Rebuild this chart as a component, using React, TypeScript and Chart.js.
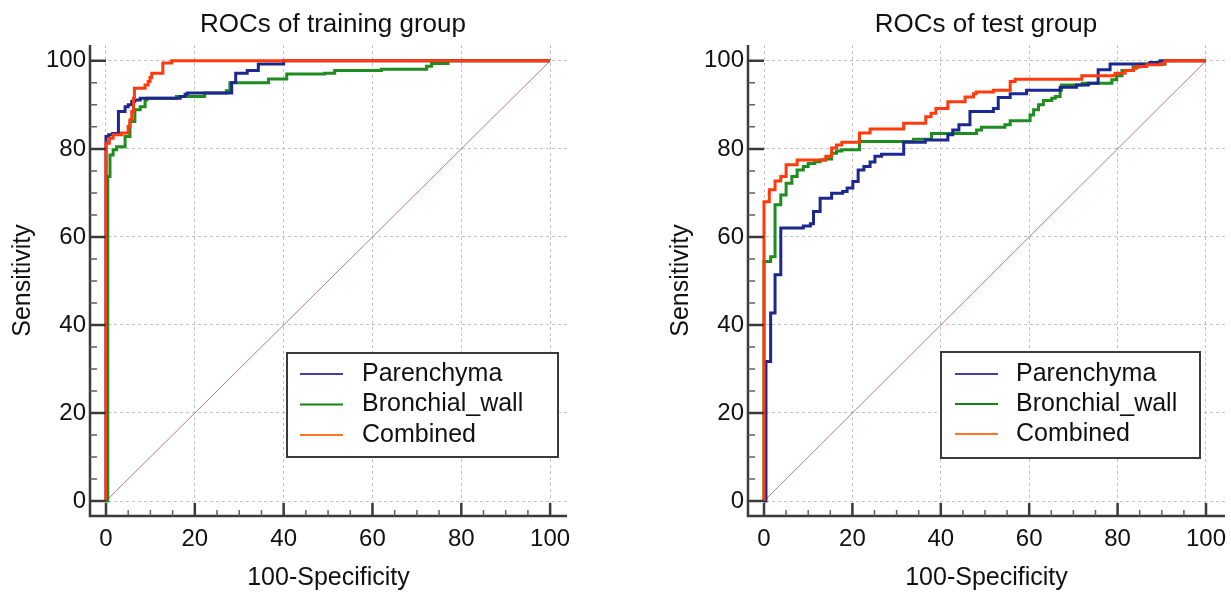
import React, { useEffect, useRef } from 'react';
import { Chart, registerables } from 'chart.js';

Chart.register(...registerables);

const FONT = "'Liberation Sans', Arial, Helvetica, sans-serif";

// ---- axis ticks / labels ----
const tickValues = [0, 20, 40, 60, 80, 100];
const seriesNames = ['Parenchyma', 'Bronchial_wall', 'Combined'];
const xAxisTitle = '100-Specificity';
const yAxisTitle = 'Sensitivity';
const trainTitle = 'ROCs of training group';
const testTitle = 'ROCs of test group';

// ---- training group (x = 100-Specificity, y = Sensitivity) ----
const trainParenchymaX = [0, 0, 0.6, 1.5, 2.8, 4.3, 5.0, 5.8, 6.5, 7.7, 16.7, 17.8, 18.3, 28.3, 29.2, 31.8, 34.3, 40.0, 100];
const trainParenchymaY = [0, 82.8, 83.2, 83.5, 88.5, 89.6, 90.0, 90.8, 91.1, 91.5, 91.9, 92.4, 92.7, 95.1, 97.2, 97.8, 99.3, 100, 100];

const trainBronchialX = [0, 0.4, 0.9, 1.6, 2.4, 4.3, 5.4, 6.5, 7.7, 8.8, 9.2, 15.9, 22.2, 27.1, 27.9, 36.6, 40.7, 49.2, 51.5, 62.0, 72.2, 73.3, 77.0, 100];
const trainBronchialY = [0, 73.7, 78.6, 79.8, 80.5, 82.8, 86.2, 88.9, 89.6, 91.1, 91.5, 91.9, 92.7, 93.2, 95.0, 95.9, 97.0, 97.2, 97.8, 98.1, 98.8, 99.4, 100, 100];

const trainCombinedX = [0, 0, 0.75, 1.6, 3.5, 5.0, 5.4, 5.8, 6.2, 6.4, 8.8, 9.5, 9.9, 10.3, 12.8, 14.8, 100];
const trainCombinedY = [0, 81.3, 82.4, 83.2, 83.6, 85.1, 86.6, 88.5, 91.5, 93.8, 94.5, 95.3, 96.2, 97.2, 99.5, 100, 100];

// ---- test group ----
const testParenchymaX = [0, 0.45, 1.5, 2.5, 3.8, 8.9, 10.5, 11.2, 12.7, 15.3, 17.8, 18.8, 20.1, 21.3, 22.6, 24.0, 25.1, 26.6, 31.6, 36.5, 41.6, 42.7, 44.1, 46.6, 51.9, 53.0, 55.7, 59.4, 67.0, 70.7, 73.4, 75.6, 78.3, 87.3, 89.6, 100];
const testParenchymaY = [0, 31.7, 42.7, 51.4, 62.0, 62.5, 63.0, 65.8, 68.8, 69.9, 70.3, 71.1, 72.6, 75.2, 76.0, 77.0, 78.3, 78.8, 81.5, 82.0, 83.2, 84.3, 85.5, 88.5, 89.2, 91.7, 92.5, 93.3, 94.0, 94.5, 94.9, 98.0, 99.3, 99.6, 100, 100];

const testBronchialX = [0, 0, 1.5, 2.5, 3.8, 5.0, 6.3, 7.5, 8.9, 10.0, 11.5, 12.7, 13.8, 15.3, 16.4, 17.6, 21.6, 33.8, 37.9, 48.1, 49.2, 54.5, 55.7, 60.2, 61.0, 62.1, 63.2, 65.1, 65.9, 67.0, 67.3, 72.0, 78.7, 79.8, 81.0, 83.5, 85.0, 90.7, 100];
const testBronchialY = [0, 54.4, 55.5, 67.3, 69.5, 72.2, 73.7, 75.2, 76.0, 76.7, 77.1, 77.5, 77.7, 79.0, 79.5, 79.8, 81.7, 82.2, 83.5, 84.3, 84.9, 85.5, 86.4, 87.7, 88.9, 90.0, 91.0, 91.5, 91.9, 93.4, 94.5, 94.9, 95.7, 96.6, 97.8, 98.6, 99.2, 100, 100];

const testCombinedX = [0, 0, 1.2, 2.5, 3.8, 5.0, 7.5, 14.0, 15.3, 16.4, 17.6, 21.6, 24.0, 31.6, 36.6, 37.8, 38.9, 41.6, 45.5, 47.4, 48.0, 51.9, 55.7, 56.8, 71.9, 79.4, 81.7, 83.6, 84.3, 86.6, 89.6, 90.7, 100];
const testCombinedY = [0, 68.0, 70.7, 72.7, 73.7, 76.4, 77.5, 78.3, 80.2, 80.9, 81.5, 83.6, 84.5, 85.8, 87.3, 88.1, 89.2, 90.7, 91.8, 92.5, 92.9, 93.3, 95.3, 95.8, 96.6, 97.2, 97.8, 98.3, 98.7, 99.1, 99.3, 100, 100];

// ---- chance line ----
const diagonalX = [0, 100];
const diagonalY = [0, 100];

// ---- styles ----
const curveColors = { parenchyma: '#1c2890', bronchial: '#1f8c1f', combined: '#ff3a0c' };
const legendColors = ['#4040a8', '#138313', '#ff7428'];
const diagColor = '#b07c86';
const axisColor = '#3a3a3a';
const gridColor = '#c2c2c2';

const toPoints = (xs: number[], ys: number[]) => xs.map((x, i) => ({ x, y: ys[i] }));

type LegendBox = { x: number; y: number; w: number; h: number; lineX0: number; lineX1: number; textX: number; rows: number[] };

type PanelProps = {
  title: string;
  titleX: number;
  xs: [number[], number[], number[]];
  ys: [number[], number[], number[]];
  xRange: [number, number];
  legend: LegendBox;
};

function makeDecor(p: PanelProps) {
  return {
    id: 'decor',
    afterDraw(chart: any) {
      const { ctx, chartArea: a, scales } = chart;
      const sx = scales.x;
      const sy = scales.y;
      ctx.save();
      // axis lines
      ctx.strokeStyle = axisColor;
      ctx.lineWidth = 2.5;
      ctx.beginPath();
      ctx.moveTo(a.left, a.top);
      ctx.lineTo(a.left, a.bottom + 1.25);
      ctx.moveTo(a.left - 1.25, a.bottom);
      ctx.lineTo(a.right, a.bottom);
      ctx.stroke();
      // tick marks (inward)
      for (let v = 0; v <= 100; v += 5) {
        const major = v % 20 === 0;
        const py = sy.getPixelForValue(v);
        const px = sx.getPixelForValue(v);
        ctx.lineWidth = major ? 2.5 : 1.5;
        ctx.strokeStyle = major ? axisColor : '#606060';
        ctx.beginPath();
        ctx.moveTo(a.left, py);
        ctx.lineTo(a.left + (major ? 16 : 7), py);
        ctx.moveTo(px, a.bottom);
        ctx.lineTo(px, a.bottom - (major ? 13 : 6));
        ctx.stroke();
      }
      // title
      ctx.fillStyle = '#111';
      ctx.font = `26px ${FONT}`;
      ctx.textAlign = 'center';
      ctx.textBaseline = 'alphabetic';
      ctx.fillText(p.title, p.titleX, 32);
      // legend
      const L = p.legend;
      ctx.fillStyle = '#fff';
      ctx.fillRect(L.x, L.y, L.w, L.h);
      ctx.strokeStyle = axisColor;
      ctx.lineWidth = 2;
      ctx.strokeRect(L.x, L.y, L.w, L.h);
      ctx.font = `25px ${FONT}`;
      ctx.textAlign = 'left';
      ctx.textBaseline = 'middle';
      seriesNames.forEach((name, i) => {
        const y = L.rows[i];
        ctx.strokeStyle = legendColors[i];
        ctx.lineWidth = 2;
        ctx.beginPath();
        ctx.moveTo(L.lineX0, y);
        ctx.lineTo(L.lineX1, y);
        ctx.stroke();
        ctx.fillStyle = '#111';
        ctx.fillText(name, L.textX, y);
      });
      ctx.restore();
    },
  };
}

function RocPanel(p: PanelProps) {
  const ref = useRef<HTMLCanvasElement | null>(null);
  useEffect(() => {
    if (!ref.current) return;
    const ds = (label: string, xs: number[], ys: number[], color: string) => ({
      label,
      data: toPoints(xs, ys),
      borderColor: color,
      backgroundColor: color,
      borderWidth: 3,
      pointRadius: 0,
      stepped: 'before' as const,
      fill: false,
    });
    const setTicks = (axis: any) => {
      axis.ticks = tickValues.map((v) => ({ value: v }));
    };
    const chart = new Chart(ref.current, {
      type: 'line',
      data: {
        datasets: [
          ds('Combined', p.xs[2], p.ys[2], curveColors.combined),
          ds('Parenchyma', p.xs[0], p.ys[0], curveColors.parenchyma),
          ds('Bronchial_wall', p.xs[1], p.ys[1], curveColors.bronchial),
          {
            label: 'Reference',
            data: toPoints(diagonalX, diagonalY),
            borderColor: diagColor,
            borderWidth: 1,
            pointRadius: 0,
            fill: false,
          },
        ],
      },
      options: {
        animation: false,
        responsive: false,
        maintainAspectRatio: false,
        events: [],
        layout: { padding: { top: 45, right: 6, left: 0, bottom: 0 } },
        plugins: {
          legend: { display: false },
          title: { display: false },
          tooltip: { enabled: false },
        },
        scales: {
          x: {
            type: 'linear',
            min: p.xRange[0],
            max: p.xRange[1],
            afterBuildTicks: setTicks,
            afterFit: (s: any) => {
              s.height = 77;
              s.paddingLeft = 0;
              s.paddingRight = 0;
            },
            ticks: {
              font: { family: FONT, size: 24 },
              color: '#111',
              padding: 9,
              maxRotation: 0,
              autoSkip: false,
            },
            grid: { color: gridColor, lineWidth: 1, drawTicks: false },
            border: { display: false, dash: [3, 3] },
            title: {
              display: true,
              text: xAxisTitle,
              font: { family: FONT, size: 25 },
              color: '#111',
              padding: { top: 0, bottom: 0 },
            },
          },
          y: {
            type: 'linear',
            min: -3.4,
            max: 103.6,
            afterBuildTicks: setTicks,
            afterFit: (s: any) => {
              s.width = 90;
              s.paddingTop = 0;
              s.paddingBottom = 0;
            },
            ticks: {
              font: { family: FONT, size: 24 },
              color: '#111',
              padding: 4,
              autoSkip: false,
            },
            grid: { color: gridColor, lineWidth: 1, drawTicks: false },
            border: { display: false, dash: [3, 3] },
            title: {
              display: true,
              text: yAxisTitle,
              font: { family: FONT, size: 25 },
              color: '#111',
              padding: { top: 8, bottom: 0 },
            },
          },
        },
      } as any,
      plugins: [makeDecor(p)],
    });
    return () => chart.destroy();
  }, []);
  return <canvas ref={ref} width={573} height={593} style={{ width: 573, height: 593, display: 'block' }} />;
}

export default function App() {
  return (
    <div style={{ position: 'fixed', left: 0, top: 0, width: 1231, height: 593, background: '#fff', overflow: 'hidden' }}>
      <div style={{ position: 'absolute', left: 0, top: 0 }}>
        <RocPanel
          title={trainTitle}
          titleX={333}
          xs={[trainParenchymaX, trainBronchialX, trainCombinedX]}
          ys={[trainParenchymaY, trainBronchialY, trainCombinedY]}
          xRange={[-3.6, 103.8]}
          legend={{ x: 287, y: 353, w: 271, h: 104, lineX0: 300, lineX1: 343, textX: 362, rows: [374, 404.5, 435] }}
        />
      </div>
      <div style={{ position: 'absolute', left: 658, top: 0 }}>
        <RocPanel
          title={testTitle}
          titleX={328}
          xs={[testParenchymaX, testBronchialX, testCombinedX]}
          ys={[testParenchymaY, testBronchialY, testCombinedY]}
          xRange={[-3.62, 104.3]}
          legend={{ x: 283, y: 352, w: 259, h: 106, lineX0: 297, lineX1: 340, textX: 358, rows: [374, 404, 434] }}
        />
      </div>
    </div>
  );
}
